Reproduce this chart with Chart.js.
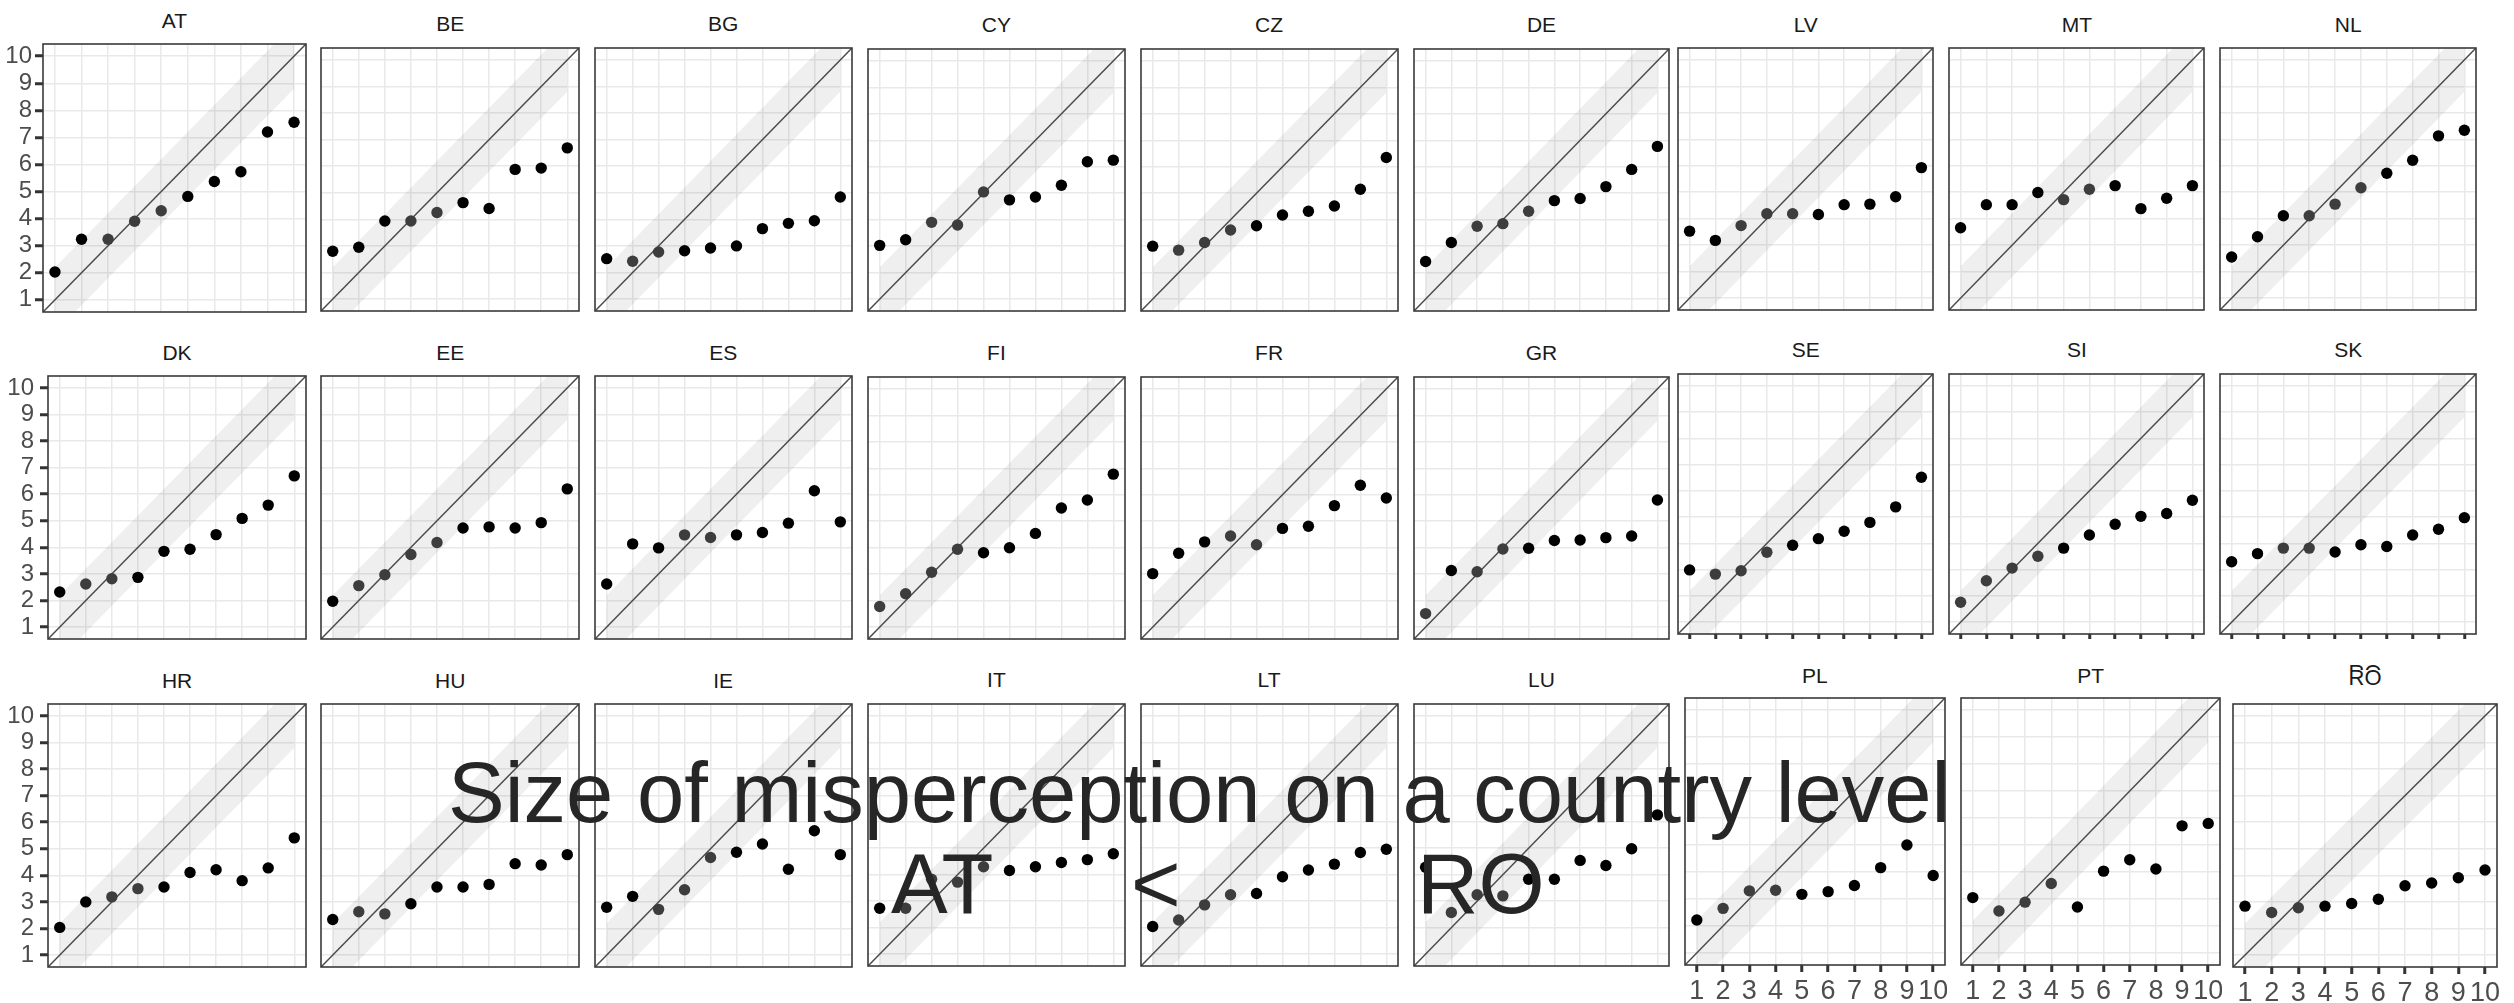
<!DOCTYPE html>
<html>
<head>
<meta charset="utf-8">
<script src="https://cdn.jsdelivr.net/npm/chart.js@4.4.1/dist/chart.umd.min.js"></script>
<style>
html,body{margin:0;padding:0;background:#fff;width:2514px;height:1003px;overflow:hidden;}
#stage{position:relative;width:2514px;height:1003px;}
#stage canvas{position:absolute;}
.strip{position:absolute;font-family:"Liberation Sans",Arial,sans-serif;color:#1a1a1a;white-space:nowrap;line-height:1;transform:translateX(-50%);}
.overlay{position:absolute;font-family:"Liberation Sans",Arial,sans-serif;font-size:85px;line-height:1;color:#262626;white-space:nowrap;z-index:10;}
</style>
</head>
<body>
<div id="stage"></div>
<script>
// ---------------- DATA ----------------
const scoreLevels = [1, 2, 3, 4, 5, 6, 7, 8, 9, 10];   // x categories
const tickValues  = [1, 2, 3, 4, 5, 6, 7, 8, 9, 10];   // axis tick labels

const countries = ['AT','BE','BG','CY','CZ','DE','LV','MT','NL',
                   'DK','EE','ES','FI','FR','GR','SE','SI','SK',
                   'HR','HU','IE','IT','LT','LU','PL','PT','RO'];

const vAT = [2.03, 3.24, 3.24, 3.90, 4.29, 4.82, 5.37, 5.73, 7.20, 7.56];
const vBE = [2.80, 2.95, 3.94, 3.94, 4.26, 4.63, 4.41, 5.88, 5.93, 6.69];
const vBG = [2.52, 2.42, 2.77, 2.82, 2.92, 3.00, 3.65, 3.85, 3.95, 4.84];
const vCY = [3.03, 3.24, 3.90, 3.80, 5.05, 4.75, 4.86, 5.30, 6.19, 6.25];
const vCZ = [3.00, 2.85, 3.14, 3.61, 3.77, 4.18, 4.32, 4.52, 5.15, 6.35];
const vDE = [2.42, 3.14, 3.75, 3.85, 4.32, 4.72, 4.80, 5.25, 5.90, 6.77];
const vLV = [3.53, 3.18, 3.74, 4.19, 4.19, 4.16, 4.53, 4.55, 4.83, 5.93];
const vMT = [3.66, 4.53, 4.53, 4.99, 4.72, 5.11, 5.25, 4.38, 4.77, 5.25];
const vNL = [2.55, 3.32, 4.11, 4.11, 4.55, 5.17, 5.72, 6.21, 7.13, 7.34];
const vDK = [2.32, 2.62, 2.82, 2.87, 3.85, 3.93, 4.48, 5.09, 5.59, 6.69];
const vEE = [1.97, 2.56, 2.97, 3.73, 4.18, 4.73, 4.77, 4.73, 4.93, 6.20];
const vES = [2.62, 4.13, 3.98, 4.47, 4.37, 4.47, 4.56, 4.91, 6.13, 4.96];
const vFI = [1.78, 2.26, 3.07, 3.94, 3.81, 4.00, 4.54, 5.50, 5.80, 6.78];
const vFR = [3.02, 3.79, 4.22, 4.44, 4.11, 4.73, 4.81, 5.59, 6.36, 5.88];
const vGR = [1.51, 3.14, 3.09, 3.95, 3.98, 4.27, 4.29, 4.38, 4.44, 5.80];
const vSE = [2.99, 2.83, 2.96, 3.66, 3.93, 4.18, 4.46, 4.80, 5.39, 6.52];
const vSI = [1.76, 2.58, 3.06, 3.51, 3.82, 4.32, 4.73, 5.03, 5.14, 5.64];
const vSK = [3.30, 3.61, 3.82, 3.82, 3.67, 3.95, 3.88, 4.32, 4.54, 4.98];
const vHR = [2.04, 3.00, 3.19, 3.50, 3.56, 4.11, 4.21, 3.80, 4.28, 5.41];
const vHU = [2.34, 2.63, 2.55, 2.93, 3.56, 3.56, 3.66, 4.44, 4.39, 4.78];
const vIE = [2.80, 3.21, 2.72, 3.46, 4.67, 4.87, 5.18, 4.23, 5.68, 4.78];
const vIT = [2.73, 2.73, 3.83, 3.72, 4.30, 4.16, 4.30, 4.46, 4.57, 4.79];
const vLT = [2.04, 2.29, 2.86, 3.24, 3.29, 3.92, 4.18, 4.40, 4.84, 4.96];
const vLU = [4.28, 2.57, 3.24, 3.20, 3.83, 3.83, 4.54, 4.35, 4.98, 6.26];
const vPL = [2.22, 2.65, 3.30, 3.32, 3.17, 3.27, 3.50, 4.16, 5.00, 3.87];
const vPT = [3.05, 2.55, 2.88, 3.57, 2.70, 4.03, 4.45, 4.11, 5.71, 5.80];
const vRO = [2.84, 2.60, 2.78, 2.84, 2.94, 3.10, 3.61, 3.71, 3.91, 4.20];

const seriesByCountry = {AT:vAT,BE:vBE,BG:vBG,CY:vCY,CZ:vCZ,DE:vDE,LV:vLV,MT:vMT,NL:vNL,
  DK:vDK,EE:vEE,ES:vES,FI:vFI,FR:vFR,GR:vGR,SE:vSE,SI:vSI,SK:vSK,
  HR:vHR,HU:vHU,IE:vIE,IT:vIT,LT:vLT,LU:vLU,PL:vPL,PT:vPT,RO:vRO};

const titleText = 'Size of misperception on a country level';
const orderText = ['AT', '<', 'RO'];

// ---------------- SCALE / REFERENCE SETTINGS ----------------
const AXIS_MIN = 0.55, AXIS_MAX = 10.45;   // 1..10 with 5% expansion
const BAND_HALF = 1.2;                     // shaded band around y = x
const NEAR_LIMIT = 0.92;                   // points this close to y = x are drawn grey

// ---------------- LAYOUT (panel boxes in page pixels) ----------------
// name, left, top, right, bottom, strip-label centre y
const panelBoxes = [
 ['AT', 42.9, 44, 305.9, 312.3, 20],
 ['BE', 321.4, 47.7, 579.1, 310.7, 23.7],
 ['BG', 594.6, 47.7, 851.8, 310.7, 23.7],
 ['CY', 867.9, 49.3, 1125, 311, 24],
 ['CZ', 1140.5, 49.3, 1397.7, 311, 24],
 ['DE', 1413.7, 49.3, 1669.3, 311, 24],
 ['LV', 1678.3, 48.3, 1933.3, 309.7, 24.7],
 ['MT', 1949.3, 48.3, 2204.3, 309.7, 24.7],
 ['NL', 2220.4, 48.3, 2476, 309.7, 24.7],
 ['DK', 48.2, 376, 305.9, 638.7, 352.5],
 ['EE', 321.4, 376, 579.1, 638.7, 352.5],
 ['ES', 594.6, 376, 851.8, 638.7, 352.5],
 ['FI', 867.9, 376.7, 1125, 638.7, 352.5],
 ['FR', 1140.5, 376.7, 1397.7, 638.7, 352.5],
 ['GR', 1413.7, 376.7, 1669.3, 638.7, 352.5],
 ['SE', 1678.3, 373.7, 1933.3, 633.7, 349.7],
 ['SI', 1949.3, 373.7, 2204.3, 633.7, 349.7],
 ['SK', 2220.4, 373.7, 2476, 633.7, 349.7],
 ['HR', 48.2, 704.3, 305.9, 967.3, 680.5],
 ['HU', 321.4, 704.3, 579.1, 967.3, 680.5],
 ['IE', 594.6, 704.3, 851.8, 967.3, 680.5],
 ['IT', 867.9, 704.3, 1125, 966, 679.7],
 ['LT', 1140.5, 704.3, 1397.7, 966, 679.7],
 ['LU', 1413.7, 704.3, 1669.3, 966, 679.7],
 ['PL', 1684.7, 698.3, 1945, 965, 675],
 ['PT', 1961.1, 698.3, 2220.4, 965, 675],
 ['RO', 2232.7, 704.3, 2497.4, 966.7, 678.3]
];
const yLabelPanels = {AT: 3, DK: 6, HR: 6};   // value = label padding
const xLabelPanels = ['PL', 'PT', 'RO'];
const xTickOnlyPanels = ['SE', 'SI', 'SK'];

const FONT = '"Liberation Sans", Arial, sans-serif';
Chart.defaults.font.family = FONT;

const panelBorder = {
  id: 'panelBorder',
  afterDatasetsDraw(chart) {
    const a = chart.chartArea, ctx = chart.ctx;
    ctx.save();
    ctx.strokeStyle = '#3a3a3a';
    ctx.lineWidth = 1.6;
    ctx.strokeRect(a.left, a.top, a.right - a.left, a.bottom - a.top);
    ctx.restore();
  }
};

const stage = document.getElementById('stage');
const bandX = [scoreLevels[0], scoreLevels[scoreLevels.length - 1]];
const setTicks = (axis) => { axis.ticks = tickValues.map(v => ({value: v})); };
const noPad = (s) => { s.paddingTop = 0; s.paddingBottom = 0; s.paddingLeft = 0; s.paddingRight = 0; };

panelBoxes.forEach(([name, l, t, r, b, stripY]) => {
  const vals = seriesByCountry[name];
  const hasYLabels = name in yLabelPanels;
  const hasXLabels = xLabelPanels.includes(name);
  const hasXTicks = hasXLabels || xTickOnlyPanels.includes(name);
  const L = Math.round(l), T = Math.round(t), R = Math.round(r), B = Math.round(b);
  const ySpace = hasYLabels ? L : 2;
  const xSpace = hasXLabels ? 48 : (hasXTicks ? 7 : 2);
  const cw = (R - L) + ySpace + 2;
  const ch = (B - T) + 2 + xSpace;

  const canvas = document.createElement('canvas');
  canvas.width = cw; canvas.height = ch;
  canvas.style.left = (L - ySpace) + 'px';
  canvas.style.top = (T - 2) + 'px';
  canvas.style.width = cw + 'px';
  canvas.style.height = ch + 'px';
  stage.appendChild(canvas);

  const pointColors = vals.map((y, i) => Math.abs(y - scoreLevels[i]) < NEAR_LIMIT ? '#3d3d3d' : '#000000');

  new Chart(canvas, {
    type: 'scatter',
    data: {
      datasets: [
        { data: bandX.map(x => ({x, y: x - BAND_HALF})), showLine: true, borderColor: 'rgba(0,0,0,0)', borderWidth: 1, pointRadius: 0, fill: false, order: 3 },
        { data: bandX.map(x => ({x, y: x + BAND_HALF})), showLine: true, borderColor: 'rgba(0,0,0,0)', borderWidth: 1, pointRadius: 0, fill: '-1', backgroundColor: 'rgba(0,0,0,0.062)', order: 2 },
        { data: [{x: AXIS_MIN, y: AXIS_MIN}, {x: AXIS_MAX, y: AXIS_MAX}], showLine: true, borderColor: '#4a4a4a', borderWidth: 1.5, pointRadius: 0, fill: false, order: 1 },
        { data: vals.map((y, i) => ({x: scoreLevels[i], y})), showLine: false, pointRadius: 5.7, pointBorderWidth: 0, pointBackgroundColor: pointColors, pointBorderColor: pointColors, order: 0 }
      ]
    },
    options: {
      responsive: false,
      animation: false,
      devicePixelRatio: 1,
      events: [],
      layout: { autoPadding: false, padding: { top: 2, right: 2, bottom: 0, left: 0 } },
      plugins: { legend: { display: false }, tooltip: { enabled: false } },
      scales: {
        x: {
          type: 'linear', min: AXIS_MIN, max: AXIS_MAX,
          afterBuildTicks: setTicks,
          afterFit: (s) => { s.height = xSpace; noPad(s); },
          border: { display: false },
          grid: { color: '#e9e9e9', lineWidth: 1.5, drawTicks: hasXTicks, tickLength: hasXLabels ? 7 : 5, tickColor: '#333333', tickWidth: 3 },
          ticks: { display: hasXLabels, autoSkip: false, maxRotation: 0, padding: 3, color: '#4d4d4d', font: { size: 27, family: FONT } }
        },
        y: {
          type: 'linear', min: AXIS_MIN, max: AXIS_MAX,
          afterBuildTicks: setTicks,
          afterFit: (s) => { s.width = ySpace; noPad(s); },
          border: { display: false },
          grid: { color: '#e9e9e9', lineWidth: 1.5, drawTicks: hasYLabels, tickLength: 8, tickColor: '#333333', tickWidth: 3 },
          ticks: { display: hasYLabels, autoSkip: false, padding: hasYLabels ? yLabelPanels[name] : 0, color: '#4d4d4d', font: { size: 24, family: FONT } }
        }
      }
    },
    plugins: [panelBorder]
  });

  // strip label
  const cx = (l + r) / 2;
  if (name === 'RO') {
    const fs = 22;
    const ghost = document.createElement('div');
    ghost.className = 'strip';
    ghost.style.fontSize = fs + 'px';
    ghost.style.lineHeight = '16px';
    ghost.style.left = cx + 'px';
    ghost.style.top = (stripY - 13.3) + 'px';
    ghost.textContent = name;
    stage.appendChild(ghost);
    const main = document.createElement('div');
    main.className = 'strip';
    main.style.fontSize = fs + 'px';
    main.style.lineHeight = '16px';
    main.style.background = '#fff';
    main.style.left = cx + 'px';
    main.style.top = (stripY - 8.3) + 'px';
    main.textContent = name;
    stage.appendChild(main);
  } else {
    const fs = 21;
    const d = document.createElement('div');
    d.className = 'strip';
    d.style.fontSize = fs + 'px';
    d.style.left = cx + 'px';
    d.style.top = (stripY - 0.4885 * fs) + 'px';
    d.textContent = name;
    stage.appendChild(d);
  }
});

// overlay title
function addOverlay(text, left, top) {
  const d = document.createElement('div');
  d.className = 'overlay';
  d.style.left = left + 'px';
  d.style.top = top + 'px';
  d.textContent = text;
  stage.appendChild(d);
}
addOverlay(titleText, 448, 750);
addOverlay(orderText[0], 891, 841);
addOverlay(orderText[1], 1131, 841);
addOverlay(orderText[2], 1417, 841);
</script>
</body>
</html>
